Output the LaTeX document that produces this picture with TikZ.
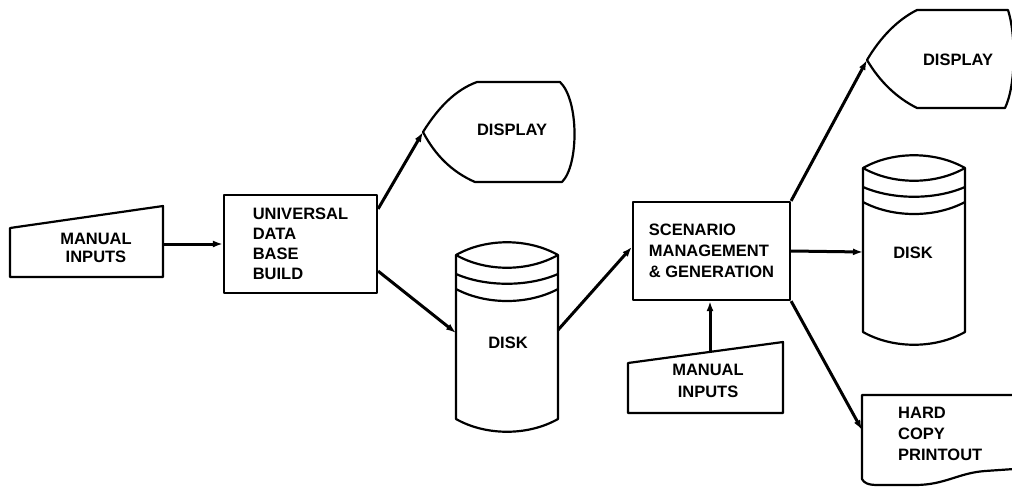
\documentclass[tikz,border=0pt]{standalone}
\usepackage{fontspec}
\setmainfont{Liberation Sans}
\usetikzlibrary{arrows.meta,calc}
\begin{document}
\begin{tikzpicture}[x=1pt,y=-1pt,
  shapeline/.style={line width=2.2pt, line join=round},
  conn/.style={line width=3pt, -{Latex[length=10pt,width=7pt]}},
  lbl/.style={font=\fontsize{16.5}{20}\selectfont\bfseries, inner sep=0pt},
  procbox/.style={draw, shapeline, lbl, align=left},
  pics/diskpic/.style={code={
    \draw[shapeline] (0,13) .. controls (30,-4) and (72,-4) .. (102,13) .. controls (72,30) and (30,30) .. (0,13) -- cycle;
    \draw[shapeline] (0,13) -- (0,177) .. controls (30,194) and (72,194) .. (102,177) -- (102,13);
    \draw[shapeline] (0,32) .. controls (30,45) and (72,45) .. (102,32);
    \draw[shapeline] (0,47) .. controls (30,63) and (72,63) .. (102,47);
  }}
]
\useasboundingbox (0,0) rectangle (1012,491);

% manual inputs (left)
\draw[shapeline] (10,228) -- (163,206) -- (163,277) -- (10,277) -- cycle;
\node[lbl, align=center, font=\fontsize{16.5}{18.5}\selectfont\bfseries] (mi1txt) at (96,248) {MANUAL\\INPUTS};
\coordinate (mi1) at (163,244);

% universal data base build
\node[procbox, minimum width=153, minimum height=98] (udb) at (300.5,244) {UNIVERSAL\\DATA\\BASE\\BUILD};

% display 1
\draw[shapeline] (423,132) .. controls (438,108) and (455,90) .. (477,82) -- (560,82)
  .. controls (579,100) and (579,165) .. (562,182) -- (475,182)
  .. controls (452,172) and (435,155) .. (423,132) -- cycle;
\node[lbl] (dsp1txt) at (512,130) {DISPLAY};
\coordinate (dsp1) at (423,132);

% disk 1
\pic at (456,242) {diskpic};
\node[lbl] (dsk1txt) at (508,343) {DISK};
\coordinate (dsk1in) at (456,333);
\coordinate (dsk1out) at (558,330);

% scenario management
\node[procbox, font=\fontsize{16.5}{21}\selectfont\bfseries, minimum width=157, minimum height=98] (scen) at (711.5,251) {SCENARIO\\MANAGEMENT\\\& GENERATION};

% manual inputs (bottom)
\draw[shapeline] (628,363) -- (783,342) -- (783,413) -- (628,413) -- cycle;
\node[lbl, align=center, font=\fontsize{16.5}{22}\selectfont\bfseries] (mi2txt) at (708,381) {MANUAL\\INPUTS};
\coordinate (mi2) at (710,351);

% display 2
\draw[shapeline] (867,60) .. controls (880,38) and (897,20) .. (917,10) -- (1008,10)
  .. controls (1016,35) and (1016,85) .. (1005,108) -- (917,108)
  .. controls (897,98) and (880,82) .. (867,60) -- cycle;
\node[lbl] (dsp2txt) at (958,60) {DISPLAY};
\coordinate (dsp2) at (867,60);

% disk 2
\pic at (863,155) {diskpic};
\node[lbl] (dsk2txt) at (913,253) {DISK};
\coordinate (dsk2in) at (863,252);

% hard copy printout
\draw[shapeline] (1014,395) -- (862,395) -- (862,479) .. controls (864,483) and (868,485) .. (878,485)
  -- (915,485) .. controls (945,485) and (958,473) .. (985,471) -- (1014,469);
\node[lbl, align=left, font=\fontsize{16.5}{21}\selectfont\bfseries, anchor=west] (hctxt) at (898,433.5) {HARD\\COPY\\PRINTOUT};
\coordinate (hc) at (862,430);

% connectors
\draw[conn] (mi1) -- (udb.west);
\draw[conn] ($(udb.north east)+(0,15)$) -- (dsp1);
\draw[conn] ($(udb.south east)+(0,-23)$) -- (dsk1in);
\draw[conn] (dsk1out) -- ($(scen.north west)+(0,46)$);
\draw[conn] (scen.north east) -- (dsp2);
\draw[conn] (scen.east) -- (dsk2in);
\draw[conn] (scen.south east) -- (hc);
\draw[conn] (mi2) -- (mi2 |- scen.south);
\end{tikzpicture}
\end{document}
